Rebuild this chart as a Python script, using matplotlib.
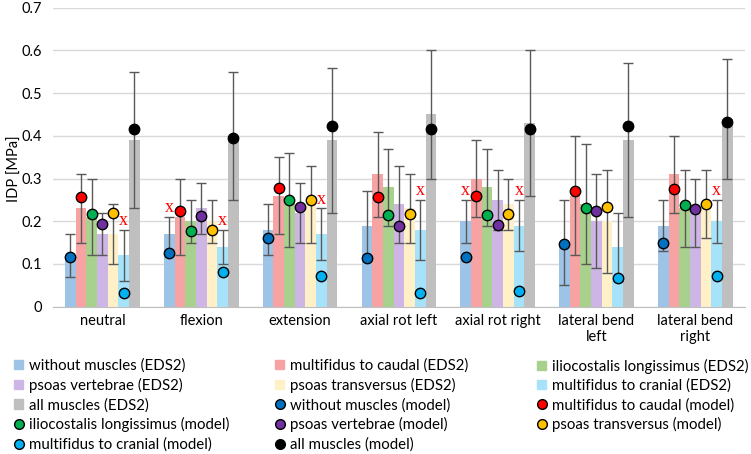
import numpy as np
import matplotlib.pyplot as plt
from matplotlib.lines import Line2D
from matplotlib.patches import Patch

plt.rcParams["font.family"] = "Lato"

# ---- data ----
groups = ["neutral", "flexion", "extension", "axial rot left", "axial rot right",
          "lateral bend\nleft", "lateral bend\nright"]

names = ["without muscles", "multifidus to caudal", "iliocostalis longissimus",
         "psoas vertebrae", "psoas transversus", "multifidus to cranial", "all muscles"]

# EDS2 (bars) and their error
without_eds = [0.12, 0.17, 0.18, 0.19, 0.20, 0.15, 0.19]
caudal_eds = [0.23, 0.21, 0.26, 0.31, 0.30, 0.26, 0.31]
ilio_eds = [0.21, 0.20, 0.25, 0.28, 0.28, 0.24, 0.23]
psv_eds = [0.17, 0.23, 0.22, 0.24, 0.25, 0.20, 0.22]
pst_eds = [0.17, 0.20, 0.24, 0.23, 0.24, 0.20, 0.24]
cranial_eds = [0.12, 0.14, 0.17, 0.18, 0.19, 0.14, 0.20]
all_eds = [0.39, 0.40, 0.39, 0.45, 0.43, 0.39, 0.44]

without_err = [0.05, 0.04, 0.06, 0.08, 0.05, 0.10, 0.06]
caudal_err = [0.08, 0.09, 0.09, 0.10, 0.09, 0.14, 0.09]
ilio_err = [0.09, 0.05, 0.11, 0.09, 0.09, 0.14, 0.09]
psv_err = [0.05, 0.06, 0.07, 0.09, 0.07, 0.11, 0.08]
pst_err = [0.07, 0.05, 0.09, 0.08, 0.06, 0.12, 0.08]
cranial_err = [0.06, 0.04, 0.06, 0.07, 0.06, 0.08, 0.05]
all_err = [0.16, 0.15, 0.17, 0.15, 0.17, 0.18, 0.14]

# model (points)
without_mod = [0.116, 0.126, 0.160, 0.113, 0.116, 0.146, 0.150]
caudal_mod = [0.257, 0.225, 0.278, 0.257, 0.258, 0.271, 0.276]
ilio_mod = [0.217, 0.178, 0.250, 0.215, 0.215, 0.230, 0.238]
psv_mod = [0.193, 0.213, 0.234, 0.190, 0.192, 0.224, 0.229]
pst_mod = [0.219, 0.180, 0.250, 0.216, 0.216, 0.234, 0.240]
cranial_mod = [0.033, 0.082, 0.072, 0.033, 0.037, 0.066, 0.072]
all_mod = [0.415, 0.396, 0.422, 0.416, 0.415, 0.424, 0.433]

# (group, series) that get a red "x"
x_flags = [(0, 5), (1, 0), (1, 5), (2, 5), (3, 5), (4, 0), (4, 5), (6, 5)]

eds = [without_eds, caudal_eds, ilio_eds, psv_eds, pst_eds, cranial_eds, all_eds]
errs = [without_err, caudal_err, ilio_err, psv_err, pst_err, cranial_err, all_err]
mods = [without_mod, caudal_mod, ilio_mod, psv_mod, pst_mod, cranial_mod, all_mod]

bar_colors = ["#9DC3E6", "#F8A3A3", "#A9D18E", "#CDB6E6", "#FFF0C8", "#A6E3FA", "#BFBFBF"]
dot_colors = ["#0070C0", "#FF0000", "#00B050", "#7030A0", "#FFC000", "#00B0F0", "#000000"]

# ---- plot ----
fig = plt.figure(figsize=(7.51, 4.54), dpi=100)
ax = fig.add_axes([0.0706, 0.3245, 0.921, 0.6585])

x = np.arange(len(groups))
w = 0.108
for i in range(7):
    pos = x + (i - 3) * w
    ax.bar(pos, eds[i], w, color=bar_colors[i], zorder=2)
    ax.errorbar(pos, eds[i], yerr=errs[i], fmt="none", ecolor="#595959",
                elinewidth=1, capsize=3.5, capthick=1, zorder=3)
    ax.plot(pos, mods[i], "o", ls="none", ms=7.5, mfc=dot_colors[i],
            mec="black", mew=1, zorder=4)

for g, s in x_flags:
    top = eds[s][g] + errs[s][g]
    ax.text(x[g] + (s - 3) * w, top + 0.002, "x", color="red", ha="center", va="bottom",
            fontsize=13, family="Liberation Serif", zorder=5)

ax.set_xlim(-0.5, len(groups) - 0.5)
ax.set_ylim(0, 0.7)
ax.set_yticks(np.arange(0, 0.71, 0.1))
ax.set_yticklabels(["0", "0.1", "0.2", "0.3", "0.4", "0.5", "0.6", "0.7"])
ax.set_xticks(x)
ax.set_xticklabels(groups, fontsize=10.5)
ax.tick_params(axis="y", labelsize=10.5, length=0, pad=8)
ax.tick_params(axis="x", length=0, pad=5)
ax.yaxis.grid(True, color="#D9D9D9", lw=1, zorder=0)
ax.set_axisbelow(True)
for sp in ["top", "right", "left"]:
    ax.spines[sp].set_visible(False)
ax.spines["bottom"].set_color("#BFBFBF")
ax.set_ylabel("IDP [MPa]", fontsize=10.5)
ax.yaxis.set_label_coords(-0.045, 0.46)

# legend: three separate columns, filled row by row
handles = []
for i in range(7):
    handles.append(Patch(color=bar_colors[i], label=names[i] + " (EDS2)"))
for i in range(7):
    handles.append(Line2D([], [], marker="o", ls="none", ms=7, mfc=dot_colors[i],
                          mec="black", mew=1, label=names[i] + " (model)"))

col_x = [14, 275, 537]
for c in range(3):
    hs = handles[c::3]
    fig.legend(hs, [h.get_label() for h in hs], loc="upper left",
               bbox_to_anchor=(col_x[c] / 751, 0.21), frameon=False,
               fontsize=10.8, handlelength=0.6, handleheight=0.6, handletextpad=0.4,
               labelspacing=0.33, borderpad=0, borderaxespad=0)

fig.savefig("out.png", dpi=100)
